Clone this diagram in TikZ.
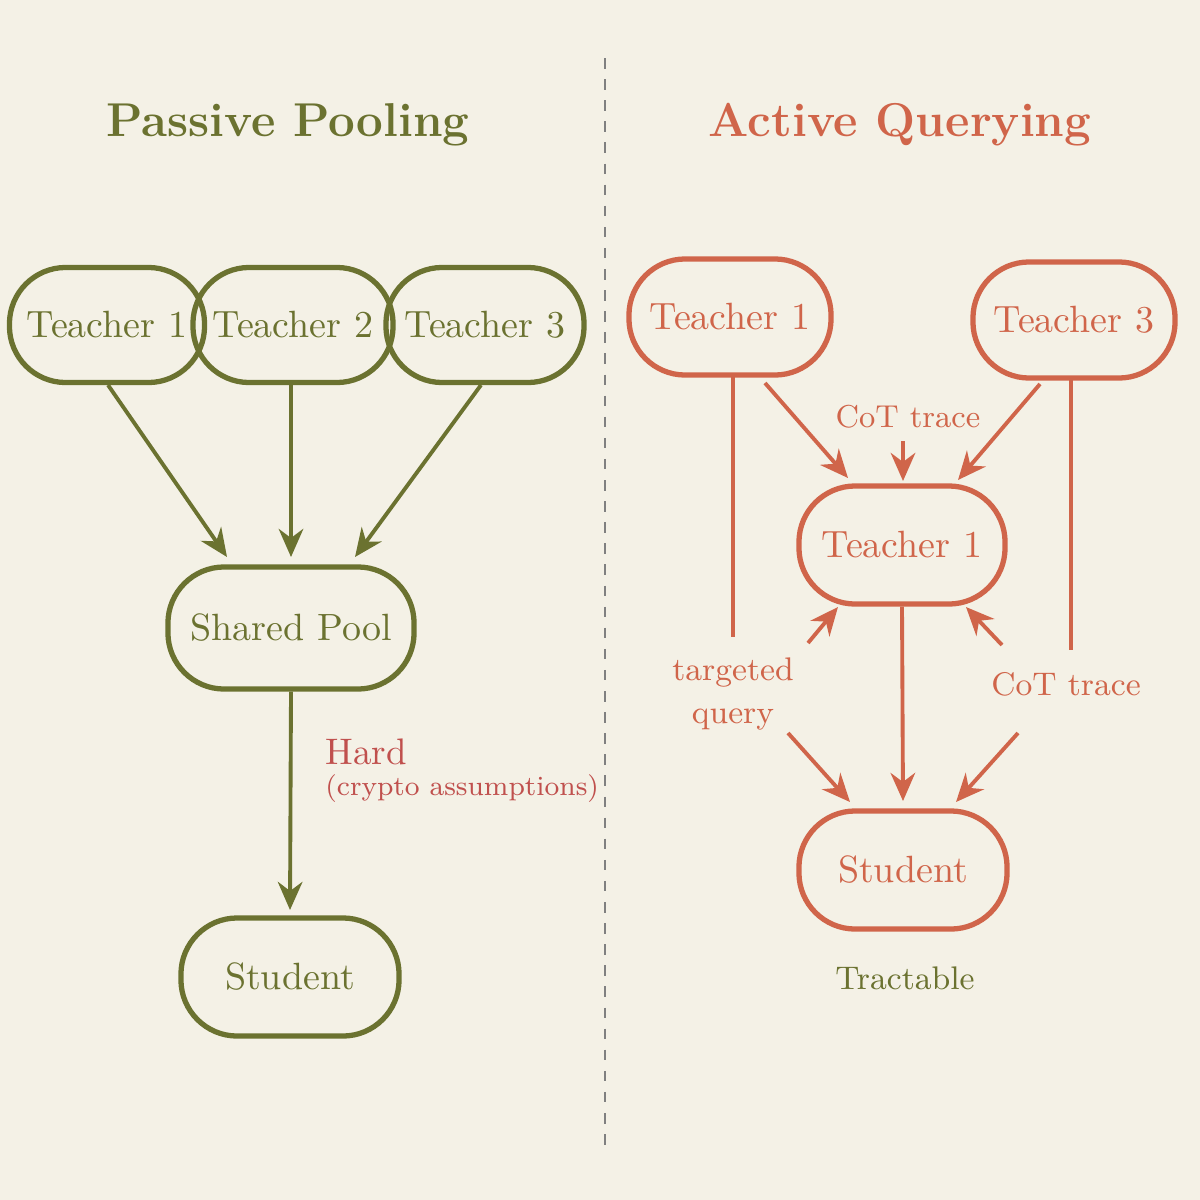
\documentclass[tikz,border=0pt]{standalone}
\usetikzlibrary{arrows.meta}
\definecolor{bg}{HTML}{F4F1E6}
\definecolor{grn}{HTML}{6B7230}
\definecolor{org}{HTML}{D0654A}
\definecolor{hardred}{HTML}{C0504D}
\begin{document}
\begin{tikzpicture}[x=0.01cm,y=-0.01cm,
 gbox/.style={draw=grn,line width=1.5pt,rounded corners=16pt,text=grn,font=\fontsize{10.8}{13}\selectfont,inner sep=0pt},
 obox/.style={draw=org,line width=1.5pt,rounded corners=16pt,text=org,font=\fontsize{10.8}{13}\selectfont,inner sep=0pt},
 garr/.style={draw=grn,line width=1.1pt,-{Stealth[length=8pt,width=7pt]}},
 oarr/.style={draw=org,line width=1.1pt,-{Stealth[length=8pt,width=7pt]}},
 oline/.style={draw=org,line width=1.1pt}]
\fill[bg] (0,0) rectangle (1200,1200);
\useasboundingbox (0,0) rectangle (1200,1200);
\draw[gray,dashed,line width=0.8pt] (605,58) -- (605,1145);
\node[text=grn,font=\bfseries\fontsize{13.5}{17}\selectfont] (t1) at (288,125) {Passive Pooling};
\node[text=org,font=\bfseries\fontsize{13.5}{17}\selectfont] (t2) at (900,125) {Active Querying};
% left
\node[gbox,minimum width=1.95cm,minimum height=1.15cm] (lt1) at (107,325) {Teacher 1};
\node[gbox,minimum width=2.0cm,minimum height=1.15cm] (lt2) at (293,325) {Teacher 2};
\node[gbox,minimum width=1.98cm,minimum height=1.15cm] (lt3) at (485,325) {Teacher 3};
\node[gbox,minimum width=2.46cm,minimum height=1.22cm] (sp) at (291,628) {Shared Pool};
\node[gbox,minimum width=2.18cm,minimum height=1.18cm] (ls) at (290,977) {Student};
\coordinate (a1) at (108,385); \coordinate (b1) at (227,557);
\coordinate (a2) at (291,385); \coordinate (b2) at (291,557);
\coordinate (a3) at (481,385); \coordinate (b3) at (355,557);
\draw[garr] (a1) -- (b1); \draw[garr] (a2) -- (b2); \draw[garr] (a3) -- (b3);
\coordinate (sb) at (290,910);
\draw[garr] (sp.south) -- (sb);
\node[anchor=west,text=hardred,font=\fontsize{10.5}{12}\selectfont] (hd) at (313,752) {Hard};
\node[anchor=west,text=hardred,font=\fontsize{7.9}{10}\selectfont] (ca) at (313,789) {(crypto assumptions)};
% right
\node[obox,minimum width=2.02cm,minimum height=1.16cm] (rt1) at (730,317) {Teacher 1};
\node[obox,minimum width=2.02cm,minimum height=1.16cm] (rt3) at (1074,320) {Teacher 3};
\node[obox,minimum width=2.06cm,minimum height=1.18cm] (rm) at (902,545) {Teacher 1};
\node[obox,minimum width=2.08cm,minimum height=1.18cm] (rs) at (903,870) {Student};
\coordinate (v1a) at (733,377); \coordinate (v1b) at (733,637);
\coordinate (v3a) at (1071,380); \coordinate (v3b) at (1071,650);
\draw[oline] (v1a) -- (v1b); \draw[oline] (v3a) -- (v3b);
\coordinate (c1) at (765,383); \coordinate (d1) at (848,478);
\coordinate (c3) at (1040,384); \coordinate (d3) at (958,480);
\draw[oarr] (c1) -- (d1); \draw[oarr] (c3) -- (d3);
\node[text=org,font=\fontsize{9}{11}\selectfont] (cot1) at (908,417) {CoT trace};
\coordinate (e1) at (903,441); \coordinate (e2) at (903,481);
\draw[oarr] (e1) -- (e2);
\coordinate (u1) at (808,643); \coordinate (u2) at (838,607);
\coordinate (w1) at (1002,645); \coordinate (w2) at (966,607);
\draw[oarr] (u1) -- (u2); \draw[oarr] (w1) -- (w2);
\coordinate (mb) at (903,801);
\draw[oarr] (rm.south) -- (mb);
\coordinate (p1) at (788,733); \coordinate (p2) at (850,802);
\coordinate (q1) at (1018,733); \coordinate (q2) at (956,802);
\draw[oarr] (p1) -- (p2); \draw[oarr] (q1) -- (q2);
\node[text=org,align=center,font=\fontsize{9.3}{12}\selectfont] (tq) at (733,694) {targeted\\query};
\node[text=org,font=\fontsize{9.3}{11}\selectfont] (cot2) at (1066,684) {CoT trace};
\node[text=grn,font=\fontsize{9.3}{11}\selectfont] (tr) at (905,978) {Tractable};
\end{tikzpicture}
\end{document}
